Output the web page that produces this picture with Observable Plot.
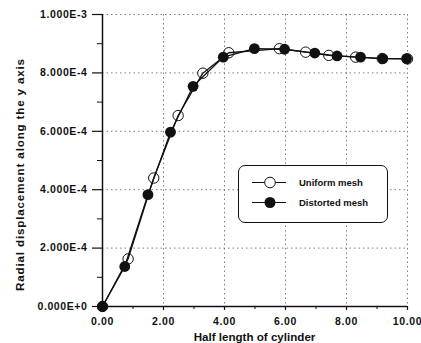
<!DOCTYPE html>
<html>
<head>
<meta charset="utf-8">
<script src="https://cdn.jsdelivr.net/npm/d3@7"></script>
<script src="https://cdn.jsdelivr.net/npm/@observablehq/plot@0.6"></script>
<style>
  body { margin: 0; background: #fff; }
  #wrap { position: relative; width: 421px; height: 343px; font-family: "Liberation Sans", Arial, sans-serif; font-weight: bold; overflow: hidden; }
  .ttl { position: absolute; font-size: 11.6px; color: #111; white-space: nowrap; line-height: 13px; }
  #xt { left: 0; width: 509px; top: 330px; text-align: center; }
  #yt { left: 13px; top: 291px; transform-origin: 0 0; transform: rotate(-90deg); letter-spacing: 0.85px; }
  #legend { position: absolute; left: 238px; top: 165px; width: 148px; height: 56px; border: 1.3px solid #111; border-radius: 7px; background: #fff; }
</style>
</head>
<body>
<div id="wrap">
  <div id="chart"></div>
  <div class="ttl" id="xt">Half length of cylinder</div>
  <div class="ttl" id="yt">Radial displacement along the y axis</div>
  <div id="legend">
    <svg width="148" height="56" style="position:absolute;left:0;top:0;font-family:'Liberation Sans',Arial,sans-serif;font-weight:bold;font-size:9.5px">
      <line x1="13" x2="47" y1="16.5" y2="16.5" stroke="#111" stroke-width="1.2"/>
      <circle cx="31" cy="16.5" r="5.3" fill="#fff" stroke="#111" stroke-width="1"/>
      <text x="60" y="20" fill="#111">Uniform mesh</text>
      <line x1="13" x2="47" y1="36.5" y2="36.5" stroke="#111" stroke-width="1.2"/>
      <circle cx="31" cy="36.5" r="5.5" fill="#111"/>
      <text x="60" y="40" fill="#111">Distorted mesh</text>
    </svg>
  </div>
</div>
<script>
const xTicks = [0, 2, 4, 6, 8, 10];
const xTickLabels = ["0.00", "2.00", "4.00", "6.00", "8.00", "10.00"];
const xMinor = [1, 3, 5, 7, 9];
const yTicks = [0, 2e-4, 4e-4, 6e-4, 8e-4, 1e-3];
const yTickLabels = ["0.000E+0", "2.000E-4", "4.000E-4", "6.000E-4", "8.000E-4", "1.000E-3"];
const yMinor = [1e-4, 3e-4, 5e-4, 7e-4, 9e-4];

const uniformX = [0, 0.84, 1.68, 2.48, 3.29, 4.14, 5.80, 6.66, 7.42, 8.30, 9.17, 10.0];
const uniformY = [0, 1.63e-4, 4.40e-4, 6.54e-4, 7.99e-4, 8.69e-4, 8.83e-4, 8.71e-4, 8.60e-4, 8.54e-4, 8.49e-4, 8.48e-4];
const distortedX = [0, 0.73, 1.49, 2.23, 2.97, 3.96, 4.98, 5.97, 6.96, 7.69, 8.46, 9.19, 9.97];
const distortedY = [0, 1.37e-4, 3.83e-4, 5.97e-4, 7.54e-4, 8.54e-4, 8.83e-4, 8.81e-4, 8.68e-4, 8.58e-4, 8.54e-4, 8.49e-4, 8.49e-4];

const uniform = uniformX.map((x, i) => ({x, y: uniformY[i]}));
const distorted = distortedX.map((x, i) => ({x, y: distortedY[i]}));

const gridStyle = {stroke: "#666", strokeDasharray: "1.5,3", strokeWidth: 1, strokeOpacity: 0.85};

const chart = Plot.plot({
  width: 421,
  height: 343,
  marginLeft: 102,
  marginRight: 14,
  marginTop: 14,
  marginBottom: 37,
  x: {domain: [0, 10]},
  y: {domain: [0, 1e-3]},
  style: {fontFamily: "'Liberation Sans', Arial, sans-serif", fontWeight: "bold", fontSize: "10.5px", letterSpacing: "0.6px", background: "#fff", color: "#111"},
  marks: [
    Plot.gridX(xTicks.slice(1), gridStyle),
    Plot.gridY(yTicks.slice(1), gridStyle),
    Plot.axisX(xMinor, {tickSize: 3, tickFormat: () => "", label: null}),
    Plot.axisX(xTicks, {tickSize: 4, tickPadding: 7, tickFormat: d => xTickLabels[xTicks.indexOf(d)], label: null, strokeWidth: 1.2}),
    Plot.axisY(yMinor, {tickSize: 5, tickFormat: () => "", label: null}),
    Plot.axisY(yTicks, {tickSize: 10, tickPadding: 5, tickFormat: d => yTickLabels[yTicks.indexOf(d)], label: null, strokeWidth: 1.2}),
    Plot.ruleX([0], {stroke: "#111", strokeWidth: 1.5}),
    Plot.ruleY([0], {stroke: "#111", strokeWidth: 1.5}),
    Plot.line(uniform, {x: "x", y: "y", stroke: "#111", strokeWidth: 1.3}),
    Plot.line(distorted, {x: "x", y: "y", stroke: "#111", strokeWidth: 1.3}),
    Plot.dot(uniform, {x: "x", y: "y", r: 5.2, stroke: "#111", strokeWidth: 1, fill: "none"}),
    Plot.dot(distorted, {x: "x", y: "y", r: 5.4, fill: "#111", stroke: "none"})
  ]
});
document.getElementById("chart").appendChild(chart);
</script>
</body>
</html>
